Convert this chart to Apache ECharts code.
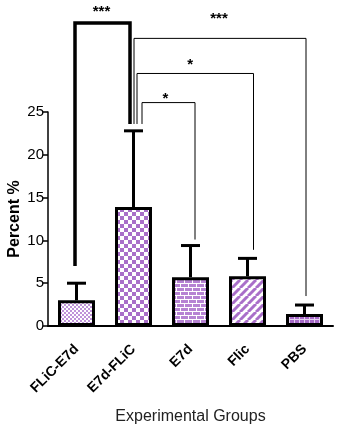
<!DOCTYPE html>
<html><head><meta charset="utf-8">
<script src="https://cdn.jsdelivr.net/npm/echarts@6/dist/echarts.min.js"></script>
<style>html,body{margin:0;padding:0;background:#fff}#c{width:338px;height:430px}</style>
</head><body><div id="c"></div>
<script>
// ---- data ----
var categories = ['FLiC-E7d', 'E7d-FLiC', 'E7d', 'Flic', 'PBS'];
var means = [3.0, 13.9, 5.7, 5.8, 1.4];
var errTops = [5.0, 22.8, 9.4, 7.9, 2.45];
var yTicks = [0, 5, 10, 15, 20, 25];
// brackets: [fromIndex, toIndex, topValue, leftLegBottom, rightLegBottom]
var brackets = [
  [0, 1, 35.4, 7.0, 23.6],
  [1, 4, 33.6, 23.6, 3.5],
  [1, 3, 29.5, 23.6, 8.9],
  [1, 2, 26.1, 23.6, 10.1]
];
var bracketLabels = ['***', '***', '*', '*'];

// ---- styles ----
var bracketStyle = [
  {dl: -1.5, dr: -3.5, w: 3.5, gap: 4, dx: -1},
  {dl: 0.5, dr: 1.5, w: 1, gap: 12, dx: -1},
  {dl: 3.5, dr: 6, w: 1, gap: 1, dx: -5},
  {dl: 8.5, dr: 4.5, w: 1, gap: -4, dx: -3}
];
var PURPLE = '#a96fc9';
function mk(w, h, draw) {
  var c = document.createElement('canvas'); c.width = w; c.height = h;
  var g = c.getContext('2d'); g.fillStyle = '#fff'; g.fillRect(0, 0, w, h); draw(g);
  return {image: c, repeat: 'repeat'};
}
var patterns = [
  mk(4, 4, function (g) { g.fillStyle = '#bf93d9'; g.fillRect(0,0,2,2); g.fillRect(2,2,2,2); }),
  mk(8, 8, function (g) { g.fillStyle = PURPLE; g.fillRect(0,0,4,4); g.fillRect(4,4,4,4); }),
  mk(8, 8, function (g) { g.fillStyle = '#b683d3'; g.fillRect(0,0,8,8); g.fillStyle = '#fff';
    g.fillRect(0,3,8,1); g.fillRect(0,7,8,1); g.fillRect(0,0,1,3); g.fillRect(4,4,1,3); }),
  mk(8, 8, function (g) { g.strokeStyle = PURPLE; g.lineWidth = 3;
    for (var k = -8; k <= 8; k += 8) { g.beginPath(); g.moveTo(k, 8); g.lineTo(k + 8, 0); g.stroke(); } }),
  mk(5, 5, function (g) { g.fillStyle = '#a76bc8'; g.fillRect(0,0,5,5); g.fillStyle = '#e4d0f0';
    g.fillRect(4,0,1,5); g.fillRect(0,4,5,1); })
];

var chart = echarts.init(document.getElementById('c'));
var FONT = '"Liberation Sans", Arial, sans-serif';
chart.setOption({
  animation: false,
  grid: {left: 48, right: 5, top: 112, bottom: 104, containLabel: false, outerBoundsMode: 'none'},
  xAxis: {
    type: 'category', data: categories,
    name: 'Experimental Groups', nameLocation: 'middle', nameGap: 83, nameMoveOverlap: false,
    nameTextStyle: {fontFamily: FONT, fontSize: 16, color: '#222'},
    axisLine: {lineStyle: {color: '#000', width: 2}},
    axisTick: {alignWithLabel: true, length: 6, lineStyle: {color: '#000', width: 1.5}},
    axisLabel: {rotate: 45, margin: 21, fontFamily: FONT, fontSize: 14, fontWeight: 'bold', color: '#000'}
  },
  yAxis: {
    type: 'value', min: yTicks[0], max: yTicks[yTicks.length - 1], interval: 5,
    name: 'Percent %', nameLocation: 'middle', nameGap: 25, nameMoveOverlap: false,
    nameTextStyle: {fontFamily: FONT, fontSize: 16, fontWeight: 'bold', color: '#000'},
    axisLine: {show: true, lineStyle: {color: '#000', width: 1.5}},
    axisTick: {show: true, length: 5, lineStyle: {color: '#000', width: 1.5}},
    axisLabel: {margin: 4, fontFamily: FONT, fontSize: 15, color: '#000'},
    splitLine: {show: false}
  },
  series: [
    {
      type: 'bar', barWidth: 37,
      data: means.map(function (v, i) { return {value: v, itemStyle: {color: patterns[i]}}; }),
      itemStyle: {borderColor: '#000', borderWidth: 3}
    },
    {
      type: 'custom', z: 3,
      data: means.map(function (v, i) { return [i, v, errTops[i]]; }),
      renderItem: function (params, api) {
        var p0 = api.coord([api.value(0), api.value(1)]);
        var p1 = api.coord([api.value(0), api.value(2)]);
        var st = {stroke: '#000', lineWidth: 3};
        return {type: 'group', children: [
          {type: 'line', shape: {x1: p0[0], y1: p0[1], x2: p1[0], y2: p1[1]}, style: st},
          {type: 'line', shape: {x1: p1[0] - 9.5, y1: p1[1], x2: p1[0] + 9.5, y2: p1[1]}, style: st}
        ]};
      }
    },
    {
      type: 'custom', z: 4, clip: false,
      data: brackets,
      renderItem: function (params, api) {
        var i = params.dataIndex, s = bracketStyle[i];
        var a = api.coord([api.value(0), api.value(2)]);
        var b = api.coord([api.value(1), api.value(2)]);
        var lb = api.coord([api.value(0), api.value(3)]);
        var rb = api.coord([api.value(1), api.value(4)]);
        var xl = a[0] + s.dl, xr = b[0] + s.dr, yt = a[1];
        return {type: 'group', children: [
          {type: 'polyline', shape: {points: [[xl, lb[1]], [xl, yt], [xr, yt], [xr, rb[1]]]},
            style: {stroke: '#000', lineWidth: s.w, fill: null}},
          {type: 'text', style: {text: bracketLabels[i], x: (xl + xr) / 2 + s.dx, y: yt - s.gap,
            textAlign: 'center', textVerticalAlign: 'bottom', fill: '#000',
            font: 'bold 15px ' + FONT}}
        ]};
      }
    }
  ]
});
</script></body></html>
